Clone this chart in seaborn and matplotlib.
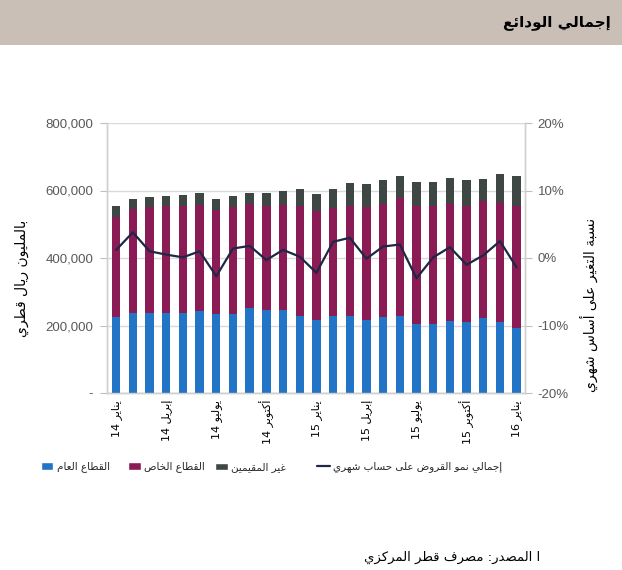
import re
import numpy as np
import pandas as pd
import matplotlib
matplotlib.use("Agg")
import matplotlib.pyplot as plt
from matplotlib.patches import Patch, Rectangle
from matplotlib.lines import Line2D
import seaborn as sns

# ---------------- data (millions QAR / percent) ----------------
month_idx = list(range(25))
tick_labels = ["يناير 14", "إبريل 14", "يوليو 14", "أكتوبر 14", "يناير 15",
               "إبريل 15", "يوليو 15", "أكتوبر 15", "يناير 16"]
public_sector = [225, 237, 238, 238, 237, 242, 234, 234, 253, 245, 245, 228, 215,
                 227, 229, 216, 226, 228, 204, 205, 214, 209, 221, 209, 194]
private_sector = [297, 308, 312, 315, 316, 315, 308, 316, 306, 309, 311, 325, 323,
                  322, 326, 334, 335, 351, 349, 348, 347, 345, 348, 354, 359]
non_residents = [31, 31, 31, 31, 33, 35, 34, 33, 35, 39, 43, 50, 51,
                 54, 67, 69, 70, 65, 71, 73, 77, 76, 66, 87, 89]
loan_growth = [1.2, 3.8, 1.0, 0.5, 0.1, 1.0, -2.7, 1.4, 1.8, -0.3, 1.2, 0.2, -2.2,
               2.4, 3.0, -0.1, 1.7, 2.0, -3.0, 0.1, 1.6, -1.0, 0.4, 2.5, -1.4]

title = "إجمالي الودائع"
ylabel_left = "بالمليون ريال قطري"
ylabel_right = "نسبة التغير على أساس شهري"
legend_labels = ["القطاع العام", "القطاع الخاص", "غير المقيمين",
                 "إجمالي نمو القروض على حساب شهري"]
source = "ا المصدر: مصرف قطر المركزي"

# ---------------- minimal Arabic shaping for matplotlib ----------------
_DUAL = {'ئ': 0xFE89, 'ب': 0xFE8F, 'ت': 0xFE95, 'ث': 0xFE99, 'ج': 0xFE9D, 'ح': 0xFEA1,
         'خ': 0xFEA5, 'س': 0xFEB1, 'ش': 0xFEB5, 'ص': 0xFEB9, 'ض': 0xFEBD, 'ط': 0xFEC1,
         'ظ': 0xFEC5, 'ع': 0xFEC9, 'غ': 0xFECD, 'ف': 0xFED1, 'ق': 0xFED5, 'ك': 0xFED9,
         'ل': 0xFEDD, 'م': 0xFEE1, 'ن': 0xFEE5, 'ه': 0xFEE9, 'ي': 0xFEF1}
_RIGHT = {'آ': 0xFE81, 'أ': 0xFE83, 'ؤ': 0xFE85, 'إ': 0xFE87, 'ا': 0xFE8D, 'ة': 0xFE93,
          'د': 0xFEA9, 'ذ': 0xFEAB, 'ر': 0xFEAD, 'ز': 0xFEAF, 'و': 0xFEED, 'ى': 0xFEEF}
_NONE = {'ء': 0xFE80}
_LAMALEF = {'آ': 0xFEF5, 'أ': 0xFEF7, 'إ': 0xFEF9, 'ا': 0xFEFB}


def _shape(text):
    out, i, n, prev = [], 0, len(text), False
    while i < n:
        c = text[i]
        if c == 'ل' and i + 1 < n and text[i + 1] in _LAMALEF:
            b = _LAMALEF[text[i + 1]]
            out.append(chr(b + 1 if prev else b))
            prev = False
            i += 2
            continue
        if c in _DUAL:
            nxt = text[i + 1] if i + 1 < n else ''
            jn = nxt in _DUAL or nxt in _RIGHT
            b = _DUAL[c]
            if prev and jn:
                f = b + 3
            elif prev:
                f = b + 1
            elif jn:
                f = b + 2
            else:
                f = b
            out.append(chr(f))
            prev = jn
        elif c in _RIGHT:
            b = _RIGHT[c]
            out.append(chr(b + 1 if prev else b))
            prev = False
        elif c in _NONE:
            out.append(chr(_NONE[c]))
            prev = False
        else:
            out.append(c)
            prev = False
        i += 1
    return ''.join(out)


def ar(text):
    s = _shape(text)
    tokens = re.findall(r'[0-9A-Za-z%]+|[^0-9A-Za-z%]+', s)
    res = []
    for t in reversed(tokens):
        res.append(t if re.match(r'[0-9A-Za-z%]', t) else t[::-1])
    return ''.join(res)


# ---------------- figure ----------------
sns.set_style("white")
plt.rcParams['font.family'] = ['Liberation Sans', 'DejaVu Sans']

W, H = 622, 570
fig = plt.figure(figsize=(W / 100, H / 100), dpi=100)
fig.patches.append(Rectangle((0, 1 - 45 / H), 1, 45 / H, transform=fig.transFigure,
                             facecolor="#C9BFB7", edgecolor="none", zorder=0))
fig.text(611 / W, 1 - 22 / H, ar(title), ha="right", va="center", fontsize=11,
         fontweight="bold", family="DejaVu Sans", color="black")

ax = fig.add_axes([107 / W, 1 - 393 / H, (525 - 107) / W, 270 / H])

df = pd.DataFrame({
    "m": month_idx,
    "pub": np.array(public_sector) * 1000,
    "priv": np.array(private_sector) * 1000,
    "nonres": np.array(non_residents) * 1000,
})
df["cum2"] = df["pub"] + df["priv"]
df["cum3"] = df["cum2"] + df["nonres"]

c_blue, c_purple, c_gray, c_line = "#2174C6", "#8A1B55", "#3F4744", "#1E2746"
sns.barplot(data=df, x="m", y="cum3", color=c_gray, saturation=1, width=0.5,
            linewidth=0, ax=ax, zorder=2)
sns.barplot(data=df, x="m", y="cum2", color=c_purple, saturation=1, width=0.5,
            linewidth=0, ax=ax, zorder=3)
sns.barplot(data=df, x="m", y="pub", color=c_blue, saturation=1, width=0.5,
            linewidth=0, ax=ax, zorder=4)

ax.set_ylim(0, 800000)
yt = [0, 200000, 400000, 600000, 800000]
ax.set_yticks(yt)
ax.set_yticklabels(["-"] + [f"{v:,}" for v in yt[1:]])
ax.yaxis.grid(True, color="#D9D9D9", linewidth=1)
ax.set_axisbelow(True)
ax.set_xlabel("")
ax.set_ylabel("")

ax2 = ax.twinx()
sns.lineplot(x=month_idx, y=loan_growth, ax=ax2, color=c_line, linewidth=1.6,
             legend=False, zorder=5)
ax2.set_ylim(-20, 20)
ax2.set_yticks([-20, -10, 0, 10, 20])
ax2.set_yticklabels(["-20%", "-10%", "0%", "10%", "20%"])
ax2.grid(False)

ax.set_xlim(-0.55, 24.5)
ax.set_xticks(month_idx[::3])
ax.set_xticklabels([ar(t) for t in tick_labels], rotation=90, fontsize=8,
                   family="DejaVu Sans", color="black")
ax.set_xticks(np.arange(2.5, 24, 3), minor=True)
ax.tick_params(axis="x", which="major", length=0, pad=5)
ax.tick_params(axis="x", which="minor", length=4, color="#BFBFBF", width=1)
ax.tick_params(axis="y", length=5, color="#BFBFBF", labelsize=9.5, labelcolor="#595959",
               pad=5, left=True)
ax2.tick_params(axis="y", length=5, color="#BFBFBF", labelsize=9.5, labelcolor="#595959",
                pad=4, right=True)

for a in (ax, ax2):
    for sp in a.spines.values():
        sp.set_color("#D0D0D0")
        sp.set_linewidth(1)
    a.spines["top"].set_visible(False)

fig.text(22 / W, 1 - 278 / H, ar(ylabel_left), rotation=90, ha="center", va="center",
         fontsize=10, family="DejaVu Sans", color="black")
fig.text(589 / W, 1 - 305 / H, ar(ylabel_right), rotation=90, ha="center", va="center",
         fontsize=10, family="DejaVu Sans", color="black")

handles = [Patch(facecolor=c_blue), Patch(facecolor=c_purple), Patch(facecolor=c_gray),
           Line2D([0], [0], color=c_line, linewidth=1.6)]
handle_x = [41, 128, 215, 317]
for h, lab, hx in zip(handles, legend_labels, handle_x):
    fig.legend([h], [ar(lab)], loc="center left",
               bbox_to_anchor=(hx / W, 1 - 467 / H), frameon=False,
               prop={"family": "DejaVu Sans", "size": 7.5}, handlelength=1.2,
               handleheight=0.7, handletextpad=0.3, borderpad=0, borderaxespad=0)

fig.text(540 / W, 1 - 557 / H, ar(source), ha="right", va="center", fontsize=9.5,
         family="DejaVu Sans", color="black")

fig.savefig("out.png", dpi=100)
